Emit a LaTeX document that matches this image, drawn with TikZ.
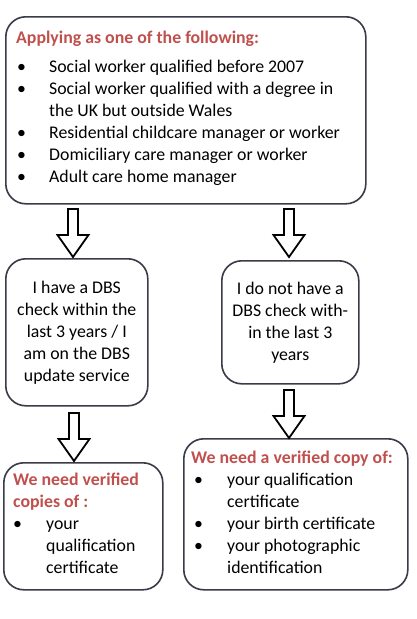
\documentclass[tikz,border=0pt]{standalone}
\usepackage{fontspec}
\setmainfont{Carlito}
\definecolor{headred}{HTML}{C0504D}
\definecolor{boxline}{HTML}{3A3A48}

% hollow down arrow, hanging from a named coordinate
\newcommand{\downblock}[1]{%
  \draw[blockarrow] ([xshift=-5pt]#1) -- ++(0,26) -- ++(-10.5,0) -- ++(15.5,22)
    -- ++(15.5,-22) -- ++(-10.5,0) -- ++(0,-26) -- cycle;}

\begin{document}
\begin{tikzpicture}[x=1pt, y=-1pt,
    box/.style={rectangle, draw=boxline, line width=1.6pt, rounded corners=20pt, anchor=north west, inner sep=0pt, align=center, font=\fontsize{17.8}{22}\selectfont},
    txt/.style={anchor=base west, inner sep=0pt, font=\fontsize{17.8}{22}\selectfont},
    head/.style={txt, text=headred, font=\fontsize{17.8}{22}\selectfont\bfseries},
    blockarrow/.style={draw=black, fill=white, line width=1.8pt, line join=miter}]

    \useasboundingbox (0,0) rectangle (416,619);

    % Boxes
    \node[box, minimum width=360, minimum height=187] (apply) at (5,16) {};
    \node[box, minimum width=142, minimum height=147] (hasdbs) at (5,258)
        {I have a DBS\\check within the\\last 3 years / I\\am on the DBS\\update service};
    \node[box, minimum width=137, minimum height=123] (nodbs) at (221,260)
        {I do not have a\\DBS check with-\\in the last 3\\years};
    \node[box, minimum width=159, minimum height=127] (needhas) at (3,462) {};
    \node[box, minimum width=224, minimum height=151] (neednot) at (183,438) {};

    % Texts
    \node[head] (applyhead) at (16,43) {Applying as one of the following:};
    \node[txt] (applylist) at (17,72) {\begin{tabular}[t]{@{}p{32pt}@{}l@{}}
        • & Social worker qualified before 2007\\
        • & Social worker qualified with a degree in\\
          & the UK but outside Wales\\
        • & Residential childcare manager or worker\\
        • & Domiciliary care manager or worker\\
        • & Adult care home manager
    \end{tabular}};
    \node[head] (needhashead) at (13,485) {\begin{tabular}[t]{@{}l@{}}We need verified\\copies of :\end{tabular}};
    \node[txt] (needhaslist) at (13,529) {\begin{tabular}[t]{@{}p{33pt}@{}l@{}}
        • & your\\
          & qualification\\
          & certificate
    \end{tabular}};
    \node[head] (neednothead) at (191,463) {We need a verified copy of:};
    \node[txt] (neednotlist) at (194,485) {\begin{tabular}[t]{@{}p{33pt}@{}l@{}}
        • & your qualification\\
          & certificate\\
        • & your birth certificate\\
        • & your photographic\\
          & identification
    \end{tabular}};

    % Arrows
    \coordinate (arrhas) at (73,209);
    \coordinate (arrno) at (289,209);
    \coordinate (arrhasneed) at (74,413);
    \coordinate (arrnoneed) at (289,390);
    \downblock{arrhas}
    \downblock{arrno}
    \downblock{arrhasneed}
    \downblock{arrnoneed}
\end{tikzpicture}
\end{document}
